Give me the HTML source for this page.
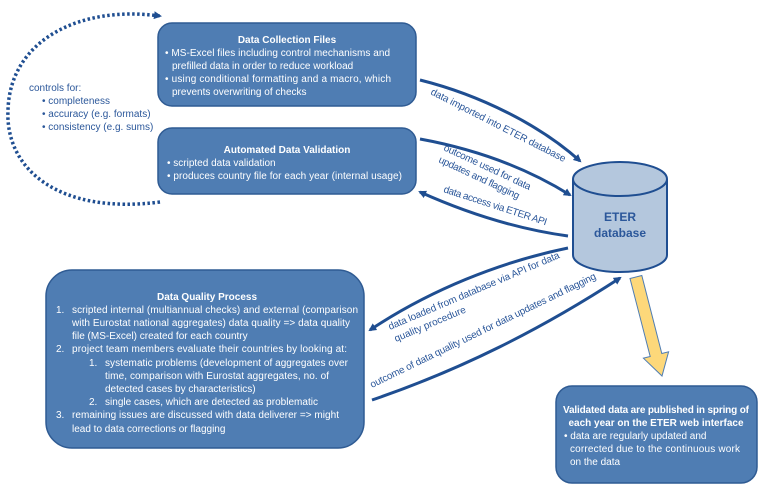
<!DOCTYPE html>
<html><head><meta charset="utf-8"><style>
body{margin:0;background:#fff}
svg{display:block;font-family:"Liberation Sans",sans-serif}
.w{fill:#fff;font-size:10px}
.b{font-weight:bold}
.l{fill:#2b579a;font-size:10px}
</style></head><body>
<svg width="760" height="487" viewBox="0 0 760 487">
<defs>
<marker id="a" markerWidth="8" markerHeight="8" refX="6" refY="4" orient="auto" markerUnits="userSpaceOnUse"><path d="M0,0 L8,4 L0,8 Z" fill="#1f4e91"/></marker>
</defs>
<path d="M160,202 C60,215 5,170 8,110 C10,40 80,5 160,16" fill="none" stroke="#1f4e91" stroke-width="3.5" stroke-dasharray="2.5,2.5" marker-end="url(#a)"/>
<text class="l" x="29" y="91">controls for:</text>
<text class="l" x="42" y="104">• completeness</text>
<text class="l" x="42" y="117">• accuracy (e.g. formats)</text>
<text class="l" x="42" y="130">• consistency (e.g. sums)</text>

<rect x="158" y="23" width="258" height="83" rx="14" fill="#4f7db3" stroke="#2f5b93" stroke-width="1.5"/>
<text class="w b" x="287" y="43" text-anchor="middle">Data Collection Files</text>
<text class="w" x="165" y="56" textLength="225">• MS-Excel files including control mechanisms and</text>
<text class="w" x="172" y="69">prefilled data in order to reduce workload</text>
<text class="w" x="165" y="82" textLength="226">•  using conditional formatting and a macro, which</text>
<text class="w" x="172" y="95">prevents overwriting of checks</text>

<rect x="158" y="128" width="258" height="66" rx="14" fill="#4f7db3" stroke="#2f5b93" stroke-width="1.5"/>
<text class="w b" x="287" y="153" text-anchor="middle">Automated Data Validation</text>
<text class="w" x="167" y="166">• scripted data validation</text>
<text class="w" x="167" y="179" textLength="235">• produces country file for each year (internal usage)</text>

<path d="M420,80 C480,95 540,125 580,161" fill="none" stroke="#1f4e91" stroke-width="3" marker-end="url(#a)"/>
<path d="M420,139 C480,150 530,170 570,195" fill="none" stroke="#1f4e91" stroke-width="3" marker-end="url(#a)"/>
<path d="M568,236 C510,228 460,210 420,192" fill="none" stroke="#1f4e91" stroke-width="3" marker-end="url(#a)"/>
<path d="M568,248 C500,262 430,290 370,330" fill="none" stroke="#1f4e91" stroke-width="3" marker-end="url(#a)"/>
<path d="M372,400 C460,370 540,330 620,278" fill="none" stroke="#1f4e91" stroke-width="3" marker-end="url(#a)"/>

<text class="l" transform="translate(430,94) rotate(27)" textLength="150">data imported into ETER database</text>
<text class="l" transform="translate(443,150) rotate(25)" textLength="95">outcome used for data</text>
<text class="l" transform="translate(438,162) rotate(25)" textLength="88">updates and flagging</text>
<text class="l" transform="translate(443,192) rotate(18)" textLength="108">data access via ETER API</text>
<text class="l" transform="translate(390,330) rotate(-23)" textLength="185">data loaded from database via API for data</text>
<text class="l" transform="translate(396,342) rotate(-23)">quality procedure</text>
<text class="l" transform="translate(372,388) rotate(-26)" textLength="250">outcome of data quality used for data updates and flagging</text>

<path d="M573,179 L573,255 A47,17 0 0 0 667,255 L667,179" fill="#b4c7dd" stroke="#1f4e91" stroke-width="2"/>
<ellipse cx="620" cy="179" rx="47" ry="17" fill="#b4c7dd" stroke="#1f4e91" stroke-width="2"/>
<text x="620" y="221" text-anchor="middle" font-weight="bold" font-size="12" fill="#2b579a">ETER</text>
<text x="620" y="237" text-anchor="middle" font-weight="bold" font-size="12" fill="#2b579a">database</text>

<path d="M630,278.5 L641.8,275.5 L661.8,353.5 L668.6,351.8 L662,376 L643.4,358.2 L650.2,356.5 Z" fill="#fdd87a" stroke="#4f7db3" stroke-width="1"/>

<rect x="46" y="270" width="318" height="178" rx="26" fill="#4f7db3" stroke="#2f5b93" stroke-width="1.5"/>
<text class="w b" x="207" y="300" text-anchor="middle">Data Quality Process</text>
<text class="w" x="56" y="313">1.</text><text class="w" x="72" y="313" textLength="286">scripted internal (multiannual checks) and external (comparison</text>
<text class="w" x="72" y="326" textLength="278">with Eurostat national aggregates) data quality =&gt; data quality</text>
<text class="w" x="72" y="339">file (MS-Excel) created for each country</text>
<text class="w" x="56" y="352">2.</text><text class="w" x="72" y="352" textLength="275">project team members evaluate their countries by looking at:</text>
<text class="w" x="89" y="366">1.</text><text class="w" x="105" y="366" textLength="243">systematic problems (development of aggregates over</text>
<text class="w" x="105" y="379" textLength="224">time, comparison with Eurostat aggregates, no. of</text>
<text class="w" x="105" y="392">detected cases by characteristics)</text>
<text class="w" x="89" y="405">2.</text><text class="w" x="105" y="405" textLength="213">single cases, which are detected as problematic</text>
<text class="w" x="56" y="418">3.</text><text class="w" x="72" y="418" textLength="267">remaining issues are discussed with data deliverer =&gt; might</text>
<text class="w" x="72" y="432">lead to data corrections or flagging</text>

<rect x="556" y="386" width="201" height="97" rx="16" fill="#4f7db3" stroke="#2f5b93" stroke-width="1.5"/>
<text class="w b" x="656" y="413" text-anchor="middle" textLength="186">Validated data are published in spring of</text>
<text class="w b" x="656" y="426" text-anchor="middle">each year on the ETER web interface</text>
<text class="w" x="564" y="439">• data are regularly updated and</text>
<text class="w" x="570" y="452" textLength="170">corrected due to the continuous work</text>
<text class="w" x="570" y="465">on the data</text>
</svg>
</body></html>
